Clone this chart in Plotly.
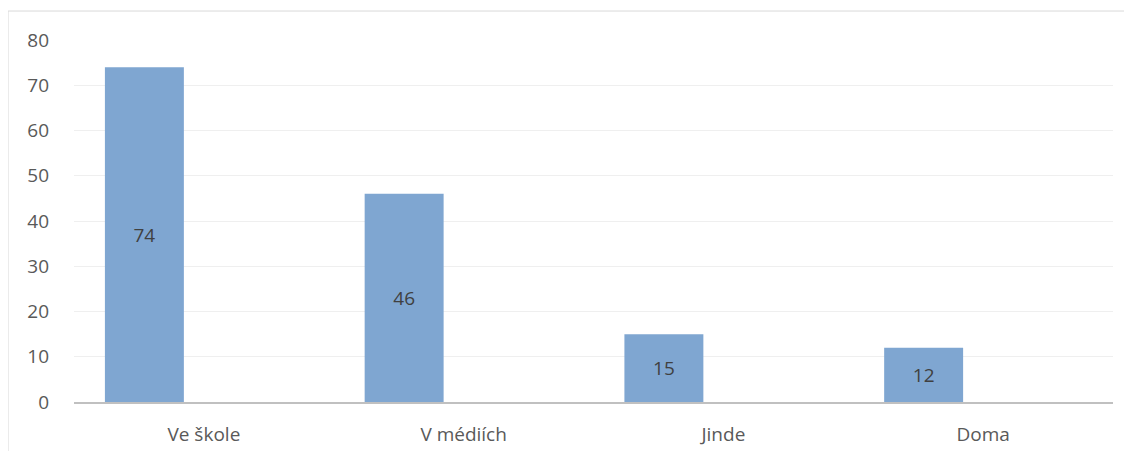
import plotly.graph_objects as go

categories = ['Ve škole', 'V médiích', 'Jinde', 'Doma']
values = [74, 46, 15, 12]
y_ticks = [0, 10, 20, 30, 40, 50, 60, 70, 80]

fig = go.Figure()
fig.add_trace(go.Bar(
    x=categories,
    y=values,
    text=[str(v) for v in values],
    textposition='inside',
    insidetextanchor='middle',
    textangle=0,
    textfont={'family': 'Open Sans', 'size': 19, 'color': '#404040'},
    marker={'color': '#7fa6d1', 'line': {'width': 0}},
    width=0.304,
    offset=-0.381,
    hoverinfo='x+y',
))

# page body has an 8px margin, so the figure is sized to fit inside it
fig.update_layout(
    width=1116,
    height=443,
    margin={'l': 66, 'r': 11, 't': 32, 'b': 49, 'autoexpand': False},
    plot_bgcolor='white',
    paper_bgcolor='white',
    showlegend=False,
    font={'family': 'Open Sans', 'size': 19, 'color': '#595959'},
    xaxis={
        'showline': True, 'linecolor': '#c0c0c0', 'linewidth': 2,
        'showgrid': False, 'ticks': '', 'range': [-0.5, 3.5],
        'automargin': False, 'ticklabelstandoff': 14,
    },
    yaxis={
        'range': [0, 80], 'tickvals': y_ticks, 'showgrid': True,
        'gridcolor': '#efefef', 'gridwidth': 1, 'zeroline': False,
        'ticks': '', 'ticklabelstandoff': 24, 'automargin': False,
    },
    shapes=[
        # chart frame (left and top edges visible)
        {'type': 'line', 'xref': 'paper', 'yref': 'paper',
         'x0': -0.0635, 'x1': -0.0635, 'y0': 1.08, 'y1': -0.2,
         'line': {'color': '#d9d9d9', 'width': 1}},
        {'type': 'line', 'xref': 'paper', 'yref': 'paper',
         'x0': -0.0635, 'x1': 1.1, 'y0': 1.08, 'y1': 1.08,
         'line': {'color': '#d9d9d9', 'width': 1}},
    ],
)

fig.write_html('out.html')
